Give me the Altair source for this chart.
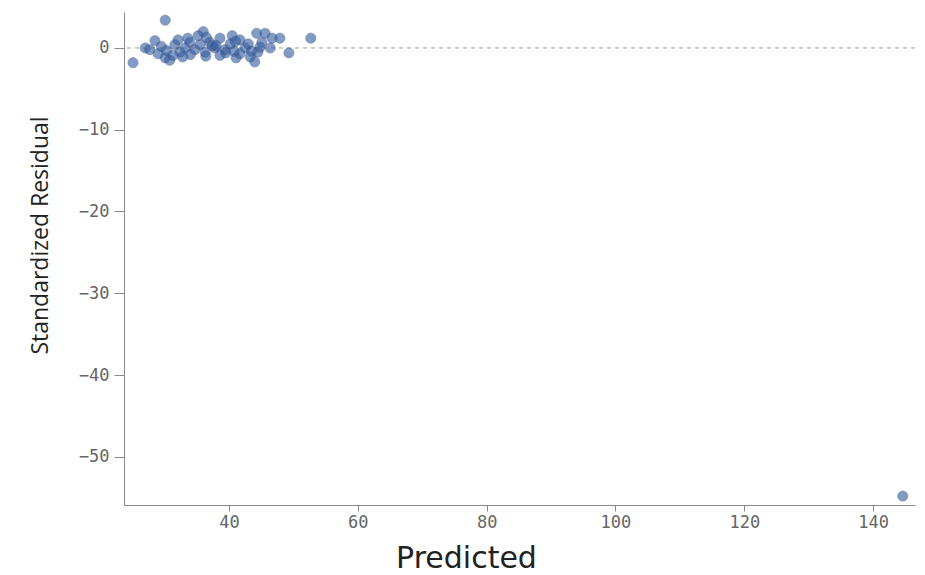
import altair as alt
import pandas as pd

predicted = [30.1, 25.1, 52.7, 49.3, 28.5, 27.0, 36.0, 44.3, 45.6, 46.7, 47.9, 40.5,
             38.6, 41.7, 33.9, 31.6, 32.4, 30.1, 30.8, 43.3, 41.1, 44.0, 46.4, 44.8,
             27.7, 29.0, 34.7, 36.3, 37.8, 39.4, 40.2, 42.5, 33.2, 35.5, 37.0, 32.1,
             33.6, 35.2, 43.0, 45.1, 41.7, 38.6, 36.4, 30.3, 31.3, 39.5, 43.5, 37.4,
             34.0, 38.0, 41.0, 44.5, 36.5, 29.5, 32.8, 40.8,
             144.6]
residual = [3.4, -1.8, 1.2, -0.6, 0.9, 0.0, 2.0, 1.8, 1.8, 1.2, 1.2, 1.5,
            1.2, 1.0, 0.7, 0.4, -0.5, -1.2, -1.5, -1.1, -1.2, -1.7, 0.0, 0.1,
            -0.2, -0.7, -0.2, -0.5, 0.0, -0.2, 0.5, 0.0, 0.0, 0.4, 0.7, 1.0,
            1.2, 1.5, 0.5, 0.7, -0.7, -0.9, -1.0, -0.3, -0.9, -0.6, -0.4, 0.3,
            -0.8, 0.3, 0.8, -0.5, 1.3, 0.2, -1.1, -0.4,
            -54.8]
x_ticks = [40, 60, 80, 100, 120, 140]
y_ticks = [0, -10, -20, -30, -40, -50]

df = pd.DataFrame({"Predicted": predicted, "Residual": residual})
zero = pd.DataFrame({"y": [0]})

xs = alt.Scale(domain=[23.7, 146.5], nice=False, zero=False)
ys = alt.Scale(domain=[-55.9, 4.4], nice=False, zero=False)

points = alt.Chart(df).mark_circle(size=105, color="#375e9f", opacity=0.62,
                                   stroke="#1f3d78", strokeWidth=1, strokeOpacity=0.55).encode(
    x=alt.X("Predicted:Q", scale=xs,
            axis=alt.Axis(title="Predicted", values=x_ticks,
                          tickSize=6, labelPadding=3,
                          titleX=342, titleY=62, titleBaseline="alphabetic",
                          titleFontSize=30, titleFontWeight="normal",
                          titleFont="DejaVu Sans", titleColor="#222")),
    y=alt.Y("Residual:Q", scale=ys,
            axis=alt.Axis(title="Standardized Residual", values=y_ticks,
                          tickSize=10, labelPadding=5,
                          titleFontSize=23, titleFontWeight="normal",
                          titleFont="Open Sans",
                          titleColor="#222", titleY=223, titleX=-77,
                          titleBaseline="alphabetic"))
)

rule = alt.Chart(zero).mark_rule(color="#999", strokeDash=[4, 4], strokeWidth=1).encode(
    y=alt.Y("y:Q", scale=ys)
)

chart = (rule + points).properties(
    width=791, height=493,
    autosize=alt.AutoSizeParams(type="none"),
    padding={"left": 116, "top": 4, "right": 2, "bottom": 70},
).configure_axis(
    grid=False, domainColor="#888", tickColor="#888", labelColor="#666",
    labelFont="DejaVu Sans Mono", labelFontSize=17
).configure_view(stroke=None)

chart.save("out.html", embed_options={"renderer": "svg", "actions": False})
